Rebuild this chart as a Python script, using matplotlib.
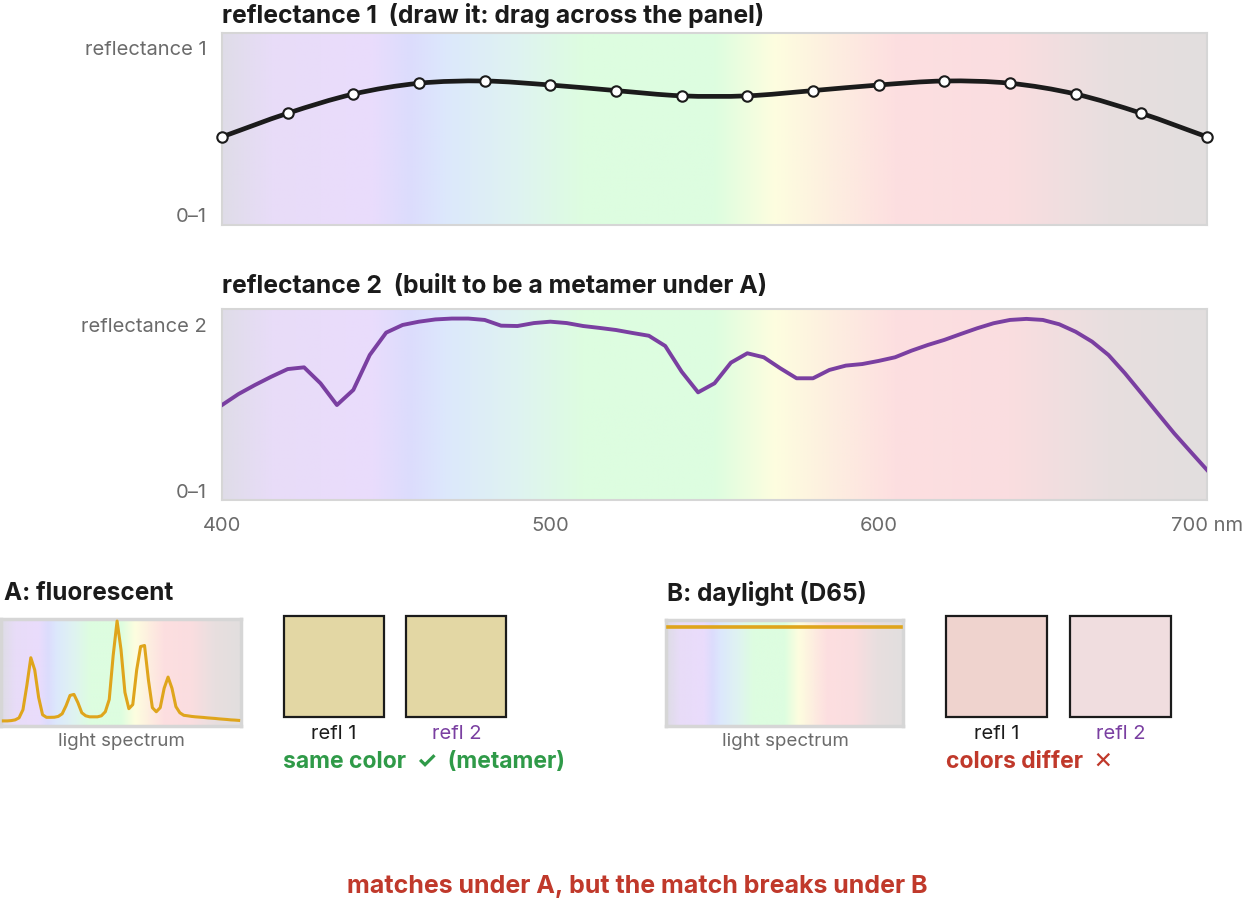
import numpy as np
import matplotlib
matplotlib.use('Agg')
import matplotlib.pyplot as plt
from matplotlib.path import Path
from matplotlib.patches import PathPatch, Rectangle
from matplotlib.colors import to_rgb

plt.rcParams['font.family'] = ['Inter', 'DejaVu Sans']

W, H = 1242, 902

# reflectance 1: hand-drawn control points every 20 nm
refl1_nm = [400, 420, 440, 460, 480, 500, 520, 540, 560, 580, 600, 620, 640, 660, 680, 700]
refl1 = [0.455, 0.59, 0.70, 0.762, 0.775, 0.752, 0.72, 0.69,
         0.69, 0.72, 0.752, 0.775, 0.762, 0.70, 0.59, 0.455]

# reflectance 2: metamer, every 5 nm
refl2_nm = list(range(400, 701, 5))
refl2 = [0.497, 0.560, 0.612, 0.660, 0.704, 0.714, 0.622, 0.497, 0.584, 0.785,
         0.914, 0.958, 0.977, 0.990, 0.995, 0.995, 0.987, 0.954, 0.952, 0.969,
         0.977, 0.969, 0.952, 0.941, 0.929, 0.912, 0.896, 0.837, 0.689, 0.570,
         0.622, 0.741, 0.795, 0.772, 0.709, 0.651, 0.651, 0.699, 0.724, 0.733,
         0.751, 0.772, 0.810, 0.843, 0.872, 0.906, 0.939, 0.968, 0.987, 0.993,
         0.987, 0.962, 0.919, 0.862, 0.785, 0.680, 0.565, 0.449, 0.334, 0.228,
         0.123]

# illuminant A: fluorescent (relative power, every 5 nm)
fluor_nm = list(range(400, 701, 5))
fluor = [0.02, 0.02, 0.023, 0.03, 0.05, 0.13, 0.37, 0.64, 0.52, 0.25,
         0.08, 0.055, 0.055, 0.056, 0.064, 0.09, 0.17, 0.27, 0.28, 0.20,
         0.10, 0.07, 0.06, 0.06, 0.06, 0.07, 0.11, 0.23, 0.66, 1.00,
         0.72, 0.30, 0.14, 0.18, 0.52, 0.75, 0.76, 0.42, 0.15, 0.11,
         0.15, 0.34, 0.45, 0.34, 0.16, 0.10, 0.075, 0.07, 0.064, 0.06,
         0.057, 0.054, 0.05, 0.047, 0.044, 0.04, 0.037, 0.034, 0.03, 0.028,
         0.025]

# illuminant B: daylight, drawn flat
d65_nm = [400, 700]
d65 = [0.95, 0.95]

tick_nm = [400, 500, 600, 700]
tick_labels = ['400', '500', '600', '700 nm']

swatch_a = ['#e3d7a4', '#e3d7a4']
swatch_b = ['#efd3ce', '#f0dddf']

# pastel spectrum used as panel background
spec_nm = [400, 415, 445, 457, 468, 490, 510, 550, 568, 585, 605, 640, 670, 700]
spec_col = ['#dfdce8', '#e8dcf8', '#eadcfc', '#dcdcfd', '#dce8fc', '#dff3f1', '#ddfde0',
            '#ddfde0', '#fdfedf', '#fdefe0', '#fddfe0', '#fadde0', '#e8dfdf', '#e2dede']

PURPLE = '#7a3fa1'
GOLD = '#dfa51c'
GREEN = '#2f9a48'
RED = '#c0392b'
GREY = '#6b6b6b'
INK = '#1b1b1b'


def px_axes(fig, x0, y0, x1, y1):
    return fig.add_axes([x0 / W, 1 - y1 / H, (x1 - x0) / W, (y1 - y0) / H])


def spectrum_bg(ax, xlo, xhi, ylo, yhi):
    nm = np.linspace(xlo, xhi, 800)
    rgb = np.array([to_rgb(c) for c in spec_col])
    img = np.stack([np.interp(nm, spec_nm, rgb[:, k]) for k in range(3)], axis=-1)[None]
    ax.imshow(img, extent=(xlo, xhi, ylo, yhi), aspect='auto',
              interpolation='bilinear', zorder=0)
    ax.set_xlim(xlo, xhi)
    ax.set_ylim(ylo, yhi)


def frame(ax, lw=1.5):
    for s in ax.spines.values():
        s.set_color('#d6d6d6')
        s.set_linewidth(lw)
    ax.set_yticks([])
    ax.tick_params(length=0)


def smooth_path(x, y):
    x = np.asarray(x, float)
    y = np.asarray(y, float)
    m = np.gradient(y, x)
    verts = [(x[0], y[0])]
    codes = [Path.MOVETO]
    for i in range(len(x) - 1):
        dx = (x[i + 1] - x[i]) / 3
        verts += [(x[i] + dx, y[i] + m[i] * dx),
                  (x[i + 1] - dx, y[i + 1] - m[i + 1] * dx),
                  (x[i + 1], y[i + 1])]
        codes += [Path.CURVE4] * 3
    return Path(verts, codes)


fig = plt.figure(figsize=(W / 100, H / 100), dpi=100)
fig.patch.set_facecolor('white')

ov = fig.add_axes([0, 0, 1, 1], zorder=-1)
ov.set_xlim(0, W)
ov.set_ylim(H, 0)
ov.axis('off')

# panel 1
ax1 = px_axes(fig, 222, 33, 1207, 225)
spectrum_bg(ax1, 400, 700, -0.05, 1.05)
frame(ax1)
ax1.set_xticks([])
ax1.add_patch(PathPatch(smooth_path(refl1_nm, refl1), facecolor='none',
                        edgecolor=INK, lw=3.4, zorder=3, capstyle='round'))
ax1.plot(refl1_nm, refl1, ls='none', marker='o', ms=7.5, mfc='white',
         mec=INK, mew=1.5, zorder=4, clip_on=False)

# panel 2
ax2 = px_axes(fig, 222, 309, 1207, 500)
spectrum_bg(ax2, 400, 700, -0.05, 1.05)
frame(ax2)
ax2.plot(refl2_nm, refl2, color=PURPLE, lw=2.8, zorder=3)
ax2.set_xticks(tick_nm)
ax2.set_xticklabels(tick_labels, color=GREY, fontsize=14.5)
ax2.tick_params(axis='x', pad=12)

ov.text(222, 16, 'reflectance 1  (draw it: drag across the panel)', fontsize=17.8,
        fontweight='bold', color=INK, va='center', ha='left')
ov.text(222, 287, 'reflectance 2  (built to be a metamer under A)', fontsize=17.8,
        fontweight='bold', color=INK, va='center', ha='left')
for txt, y in [('reflectance 1', 50), ('0\u20131', 217), ('reflectance 2', 327), ('0\u20131', 493)]:
    ov.text(207, y, txt, fontsize=14.5, color=GREY, va='center', ha='right')

# mini panel A
axa = px_axes(fig, 1, 619, 241, 726)
spectrum_bg(axa, 397, 703, -0.03, 1.02)
frame(axa, lw=2.5)
axa.set_xticks([])
axa.plot(fluor_nm, fluor, color=GOLD, lw=2.2, zorder=3)

# mini panel B
axb = px_axes(fig, 666, 620, 903, 726)
spectrum_bg(axb, 397, 703, -0.03, 1.02)
frame(axb, lw=2.5)
axb.set_xticks([])
axb.plot(d65_nm, d65, color=GOLD, lw=2.6, zorder=3)

ov.text(4, 593, 'A: fluorescent', fontsize=17.5, fontweight='bold', color=INK,
        va='center', ha='left')
ov.text(667, 593, 'B: daylight (D65)', fontsize=17.5, fontweight='bold', color=INK,
        va='center', ha='left')
ov.text(121, 741, 'light spectrum', fontsize=13.5, color=GREY, va='center', ha='center')
ov.text(785, 741, 'light spectrum', fontsize=13.5, color=GREY, va='center', ha='center')

for x0, col in zip([284, 406], swatch_a):
    ov.add_patch(Rectangle((x0, 616), 100, 101, facecolor=col, edgecolor=INK, lw=1.6))
for x0, col in zip([946, 1070], swatch_b):
    ov.add_patch(Rectangle((x0, 616), 101, 101, facecolor=col, edgecolor=INK, lw=1.6))

for xc, lab, col in [(334, 'refl 1', INK), (457, 'refl 2', PURPLE),
                     (997, 'refl 1', INK), (1121, 'refl 2', PURPLE)]:
    ov.text(xc, 734, lab, fontsize=14.5, color=col, va='center', ha='center')

ov.text(283, 762, 'same color  \u2713  (metamer)', fontsize=16.5, fontweight='bold',
        color=GREEN, va='center', ha='left')
ov.text(946, 762, 'colors differ  \u2715', fontsize=16.5, fontweight='bold',
        color=RED, va='center', ha='left')
ov.text(637, 887, 'matches under A, but the match breaks under B', fontsize=18,
        fontweight='bold', color=RED, va='center', ha='center')

fig.savefig('out.png', dpi=100, facecolor='white')
